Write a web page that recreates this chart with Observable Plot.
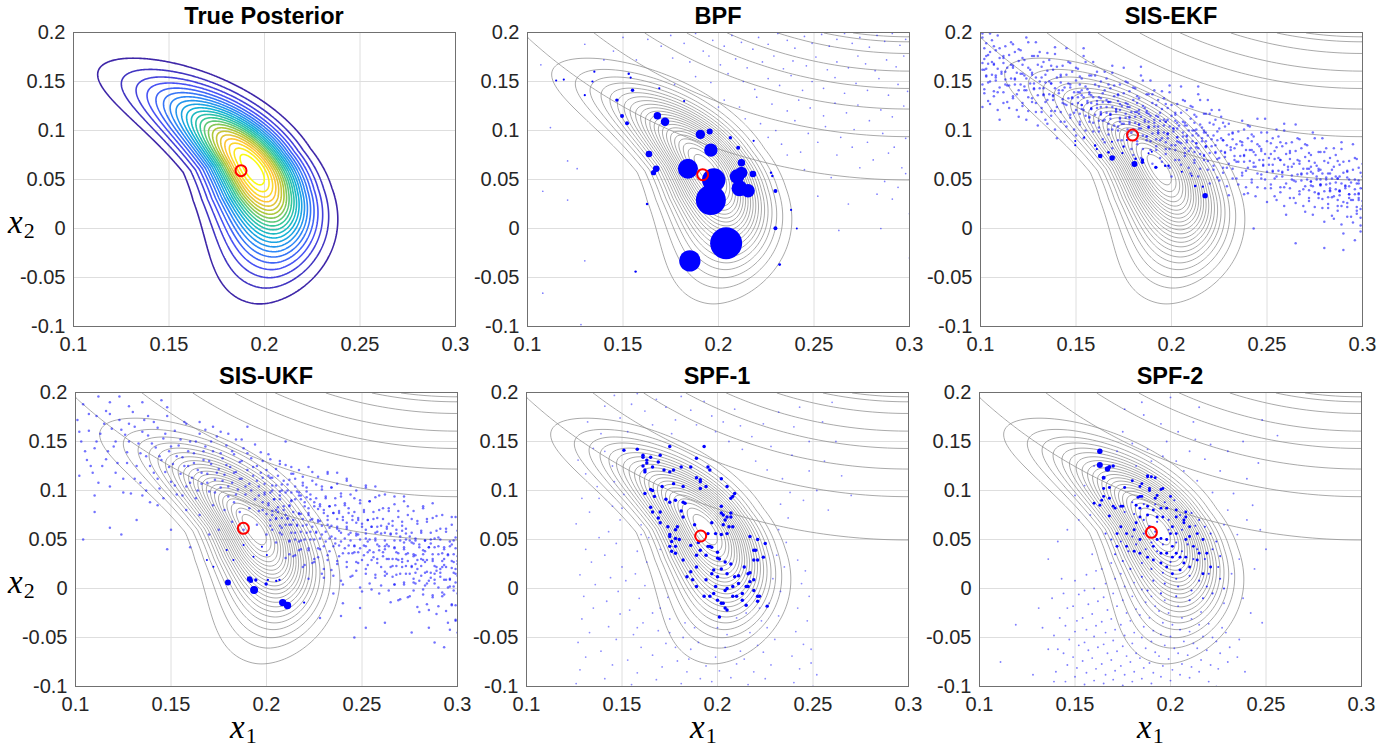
<!DOCTYPE html>
<html>
<head>
<meta charset="utf-8">
<script src="https://cdn.jsdelivr.net/npm/d3@7"></script>
<script src="https://cdn.jsdelivr.net/npm/@observablehq/plot@0.6"></script>
<style>
body{margin:0;background:#fff;}
#root{position:relative;width:1393px;height:747px;overflow:hidden;background:#fff;}
#root > div.panel{position:absolute;}
#labels{position:absolute;left:0;top:0;pointer-events:none;}
</style>
</head>
<body>
<div id="root"></div>
<script>
// ---------------- data ----------------
const titles = ["True Posterior", "BPF", "SIS-EKF", "SIS-UKF", "SPF-1", "SPF-2"];
const xTicks = [0.1, 0.15, 0.2, 0.25, 0.3];
const yTicks = [-0.1, -0.05, 0, 0.05, 0.1, 0.15, 0.2];
// posterior-mean estimates (red circles), one per panel
const estimates = [[0.1877, 0.059], [0.1917, 0.0549], [0.1796, 0.0953], [0.1879, 0.0614], [0.1912, 0.0536], [0.19, 0.0573]];

// true posterior: ring-shaped density (range-like likelihood) – parameters
const ringRadius = 0.203, ringPeakDeg = 17.3, ringSpreadLow = 15.5, ringSpreadHigh = 15.2;
const posteriorLevels = [0.0435, 0.087, 0.1304, 0.1739, 0.2174, 0.2609, 0.3043, 0.3478, 0.3913, 0.4348, 0.4783, 0.5217, 0.5652, 0.6087, 0.6522, 0.6957, 0.7391, 0.7826, 0.8261, 0.8696, 0.913, 0.9565];
// prior contours (grey arcs, upper right): centre, aspect, and arc heights at x1 = 0.3
const priorCenter = [0.3, 0.508], priorAspect = 0.597;
const priorLevels = [0.0495, 0.0937, 0.1219, 0.1429, 0.1606, 0.1786, 0.1905, 0.1956];

const parula = ["#3e26a8", "#4852f4", "#2d87f7", "#12b1d6", "#37c897", "#abc739", "#fec338", "#f9fb15"];

// weighted particles [x1, x2, weight]
const bpfParticles = [[0.204,-0.015,0.256],[0.185,-0.033,0.114],[0.196,0.029,0.225],[0.1975,0.0495,0.137],[0.184,0.061,0.100],[0.196,0.080,0.045],[0.1905,0.096,0.022],[0.1954,0.099,0.009],[0.168,0.115,0.014],[0.172,0.109,0.018],[0.1636,0.076,0.011],[0.1674,0.061,0.011],[0.166,0.057,0.007],[0.2097,0.053,0.053],[0.212,0.057,0.036],[0.211,0.041,0.064],[0.2155,0.0386,0.045],[0.212,0.067,0.014],[0.218,0.0556,0.011],[0.2103,0.0824,0.004],[0.2062,0.0926,0.003],[0.2298,0.0383,0.004],[0.2298,0.0003,0.004],[0.232,-0.0368,0.002],[0.1495,0.1147,0.004],[0.1521,0.1073,0.004],[0.1468,0.131,0.003],[0.155,0.141,0.003],[0.1626,0.025,0.0015],[0.1566,-0.044,0.0015],[0.2275,0.057,0.0015],[0.2282,0.0536,0.0015],[0.238,0.019,0.0012],[0.2184,0.0895,0.0012],[0.241,0.0,0.001],[0.115,0.151,0.0012],[0.119,0.152,0.0012],[0.130,0.136,0.0012],[0.134,0.150,0.0012],[0.135,0.160,0.0012],[0.153,0.158,0.0015],[0.154,0.154,0.0012],[0.169,0.143,0.0012],[0.182,0.130,0.0012]];
const ekfParticles = [[0.1627,0.074,0.0053],[0.1689,0.0719,0.0073],[0.1806,0.0658,0.009],[0.2176,0.0335,0.0073],[0.1918,0.0624,0.0029],[0.1848,0.0699,0.0029],[0.1848,0.0675,0.0029],[0.1812,0.0712,0.0017],[0.167,0.0777,0.0017],[0.1743,0.077,0.0013],[0.16,0.0845,0.0013],[0.1609,0.0811,0.0013],[0.1496,0.085,0.001],[0.1496,0.0892,0.001],[0.1543,0.093,0.001],[0.1749,0.0835,0.001],[0.1688,0.0886,0.001],[0.1766,0.0903,0.001],[0.188,0.0767,0.001],[0.1967,0.0641,0.0015],[0.1984,0.0641,0.0015],[0.2124,0.0434,0.0017],[0.2164,0.0427,0.0013],[0.2054,0.058,0.001],[0.2106,0.0539,0.001],[0.1897,0.0784,0.001]];
const ukfParticles = [[0.1935,-0.0015,0.016],[0.1798,0.006,0.009],[0.1911,0.0097,0.0073],[0.1918,0.008,0.0055],[0.1944,0.0087,0.0029],[0.1998,0.0046,0.0029],[0.2007,0.0087,0.0013],[0.2085,-0.0144,0.0137],[0.211,-0.0174,0.0137],[0.2197,-0.0144,0.0013],[0.2051,0.0077,0.0013],[0.2068,0.0087,0.0013],[0.1722,0.0223,0.001],[0.1827,0.029,0.001],[0.1932,0.0325,0.001],[0.2002,0.0342,0.001],[0.1688,0.029,0.001],[0.1792,0.0393,0.001],[0.188,0.0444,0.001],[0.1976,0.0427,0.001]];
const spf2Particles = [[0.163,0.140,0.0073],[0.163,0.126,0.009],[0.167,0.122,0.0073],[0.168,0.124,0.004],[0.170,0.125,0.0029],[0.165,0.113,0.004]];
const spf1Weight = 0.003, spf2Weight = 0.0022, spf2SmallWeight = 0.0011;

// particle clouds, coordinates in units of 0.001
const bpfCloud = [[163,193],[170,186],[175,197],[182,189],[188,199],[192,181],[197,192],[203,186],[207,197],[212,190],[218,183],[221,195],[226,188],[231,199],[236,192],[240,184],[245,196],[249,189],[254,198],[258,186],[262,193],[266,199],[270,189],[274,195],[279,185],[283,197],[287,191],[291,199],[295,187],[298,193],[176,174],[185,170],[195,176],[201,167],[209,173],[215,164],[223,170],[229,176],[234,163],[239,171],[246,166],[251,175],[257,162],[262,170],[268,164],[273,176],[277,168],[282,161],[288,172],[293,165],[297,176],[188,155],[196,149],[205,158],[213,150],[219,142],[226,153],[232,146],[238,156],[244,141],[249,150],[255,143],[261,154],[266,138],[272,148],[278,141],[284,153],[289,136],[294,147],[299,140],[203,131],[211,124],[220,134],[228,127],[236,120],[242,131],[248,123],[255,115],[261,128],[267,118],[273,126],[279,110],[285,121],[291,114],[297,125],[222,107],[230,100],[240,110],[247,97],[256,104],[264,93],[271,101],[278,88],[286,97],[292,83],[298,92],[233,86],[243,78],[252,88],[262,75],[270,83],[281,70],[289,77],[296,62],[245,60],[259,52],[274,62],[287,48],[294,42],[298,56],[252,33],[268,25],[283,35],[291,30],[107,167],[108,38],[121,29],[108,-66],[130,-33],[128,-98],[121,69],[112,103],[140,172],[150,195],[130,188],[126,61],[285,0],[300,-30],[263,-2],[300,15],[145,181],[157,172],[177,147],[200,124],[214,112],[226,93],[236,75]];

const ekfCloud = [[101,124],[102,138],[101,147],[103,155],[102,162],[101,169],[103,176],[102,184],[101,195],
[105,127],[107,140],[104,149],[108,156],[103,163],[106,170],[104,177],[107,186],[105,199],
[110,111],[112,128],[109,139],[113,147],[108,154],[111,160],[107,167],[112,174],[110,184],[109,197],
[115,123],[117,135],[114,146],[118,153],[113,160],[116,167],[112,176],[117,188],
[120,114],[122,128],[119,137],[123,145],[118,152],[121,158],[117,166],[122,174],[120,183],
[125,120],[127,133],[124,141],[128,148],[123,156],[126,162],[122,167],[127,176],[125,190],
[130,105],[132,119],[129,128],[133,136],[128,143],[131,150],[127,157],[132,165],[130,176],[129,190],
[135,107],[137,120],[134,129],[138,136],[133,143],[136,150],[134,157],[137,166],[135,179],
[140,92],[142,109],[139,120],[143,128],[138,135],[141,141],[137,148],[142,155],[140,165],[139,178],
[145,104],[147,116],[144,127],[148,134],[143,141],[146,148],[142,157],[147,169],[145,184],
[150,95],[152,109],[149,118],[153,126],[148,133],[151,139],[147,147],[152,155],[150,164],
[155,100],[157,113],[154,121],[158,128],[153,136],[156,142],[152,147],[157,156],[155,170],[154,184],
[160,85],[162,99],[159,108],[163,116],[158,123],[161,130],[157,137],[162,145],[160,156],[159,170],
[165,88],[167,101],[164,110],[168,117],[163,124],[166,131],[164,138],[167,147],[165,160],
[170,73],[172,90],[169,101],[173,109],[168,116],[171,122],[167,129],[172,136],[170,146],[169,159],
[175,84],[177,96],[174,107],[178,114],[173,121],[176,128],[172,137],[177,149],[175,164],
[180,75],[182,89],[179,98],[183,106],[178,113],[181,119],[177,127],[182,135],[180,144],
[185,81],[187,94],[184,102],[188,109],[183,117],[186,123],[182,128],[187,137],[185,151],[184,165],
[190,66],[192,80],[189,89],[193,97],[188,104],[191,111],[187,118],[192,126],[190,137],[189,151],
[195,68],[197,81],[194,90],[198,97],[193,104],[196,111],[194,118],[197,127],[195,140],
[200,53],[202,70],[199,81],[203,89],[198,96],[201,102],[197,109],[202,116],[200,126],[199,139],
[205,65],[207,77],[204,88],[208,95],[203,102],[206,109],[202,118],[207,130],[205,145],
[210,56],[212,70],[209,79],[213,87],[208,94],[211,100],[207,108],[212,116],[210,125],
[215,61],[217,74],[214,82],[218,89],[213,97],[216,103],[212,108],[217,117],[215,131],[214,145],
[220,46],[222,60],[219,69],[223,77],[218,84],[221,91],[217,98],[222,106],[220,117],[219,131],
[225,49],[227,62],[224,71],[228,78],[223,85],[226,92],[224,99],[227,108],[225,121],
[230,34],[232,51],[229,62],[233,70],[228,77],[231,83],[227,90],[232,97],[230,107],
[235,45],[237,57],[234,68],[238,75],[233,82],[236,89],[232,98],[237,110],
[240,36],[242,50],[239,59],[243,67],[238,74],[241,80],[237,88],[242,96],[240,105],
[245,42],[247,55],[244,63],[248,70],[243,78],[246,84],[242,89],[247,98],[245,112],
[250,27],[252,41],[249,50],[253,58],[248,65],[251,72],[247,79],[252,87],[250,98],[249,112],
[255,29],[257,42],[254,51],[258,58],[253,65],[256,72],[254,79],[257,88],[255,101],
[260,14],[262,31],[259,42],[263,50],[258,57],[261,63],[257,70],[262,77],[260,87],[259,100],
[265,26],[267,38],[264,49],[268,56],[263,63],[266,70],[262,79],[267,91],[265,106],
[270,17],[272,31],[269,40],[273,48],[268,55],[271,61],[267,69],[272,77],[270,86],
[275,22],[277,35],[274,43],[278,50],[273,58],[276,64],[272,69],[277,78],[275,92],
[280,7],[282,21],[279,30],[283,38],[278,45],[281,52],[277,59],[282,67],[280,78],[279,92],
[285,10],[287,23],[284,32],[288,39],[283,46],[286,53],[284,60],[287,69],[285,82],
[290,-5],[292,12],[289,23],[293,31],[288,38],[291,44],[287,51],[292,58],[290,68],[289,81],
[295,6],[297,18],[294,29],[298,36],[293,43],[296,50],[292,59],[297,71],[295,86],
[299,-3],[299,11],[299,20],[300,28],[298,35],[300,41],[298,49],[299,57],[300,66],
[152,117],[153,126],[151,134],[153,141],[157,114],[158,122],[156,130],[158,136],[162,110],[163,119],[161,127],[163,133],
[167,107],[168,116],[166,124],[168,129],[172,104],[173,112],[171,121],[173,127],[177,101],[178,109],[176,117],[178,124],
[182,98],[183,106],[181,114],[183,121],[187,94],[188,103],[186,111],[188,117],[192,91],[193,100],[191,108],[193,114],
[197,88],[198,97],[196,105],[198,111],[202,85],[203,93],[201,102],[203,108],[207,82],[208,90],[206,98],[208,105],
[212,78],[213,87],[211,95],[213,101],[217,75],[218,84],[216,92],[218,98],
[272,39],[273,48],[271,56],[273,63],[277,36],[278,45],[276,53],[278,60],[282,32],[283,41],[281,50],[283,56],
[287,29],[288,38],[286,47],[288,53],[292,26],[293,35],[291,43],[293,50],[297,22],[298,31],[296,40],[298,46],
[265,-15],[280,-20],[243,0],[238,35],[290,-22],[296,-12],
[104,130],[102,142],[105,150],[103,156],[101,162],[104,168],[102,173],[105,180],[103,189],[101,199],
[109,121],[107,135],[110,144],[108,151],[106,157],[109,163],[107,168],[110,174],[108,182],[106,192],
[114,129],[112,139],[115,146],[113,152],[111,158],[114,164],[112,169],[115,177],[113,186],
[119,121],[117,133],[120,141],[118,147],[116,153],[119,159],[117,164],[120,171],[118,180],[116,190],
[124,111],[122,125],[125,134],[123,141],[121,147],[124,153],[122,158],[125,164],[123,172],[121,182],[124,195],
[129,119],[127,129],[130,136],[128,142],[126,148],[129,154],[127,159],[130,167],[128,176],
[134,111],[132,123],[135,131],[133,137],[131,143],[134,149],[132,154],[135,161],[133,170],[131,180],
[139,101],[137,115],[140,124],[138,131],[136,137],[139,143],[137,148],[140,154],[138,162],[136,172],[139,185],
[144,109],[142,119],[145,126],[143,132],[141,138],[144,144],[142,149],[145,157],[143,166],
[149,101],[147,113],[150,121],[148,127],[146,133],[149,139],[147,144],[150,151],[148,160],[146,170],
[154,92],[152,106],[155,115],[153,122],[151,128],[154,134],[152,139],[155,145],[153,153],[151,163],[154,176],
[159,99],[157,109],[160,116],[158,122],[156,128],[159,134],[157,139],[160,147],[158,156],
[164,91],[162,103],[165,111],[163,117],[161,123],[164,129],[162,134],[165,141],[163,150],[161,160],
[169,82],[167,96],[170,105],[168,112],[166,118],[169,124],[167,129],[170,135],[168,143],[166,153],[169,166],
[174,90],[172,100],[175,107],[173,113],[171,119],[174,125],[172,130],[175,138],[173,147],
[179,81],[177,93],[180,101],[178,107],[176,113],[179,119],[177,124],[180,131],[178,140],[176,150],
[184,72],[182,86],[185,95],[183,102],[181,108],[184,114],[182,119],[185,125],[183,133],[181,143],[184,156],
[189,80],[187,90],[190,97],[188,103],[186,109],[189,115],[187,120],[190,128],[188,137],
[194,72],[192,84],[195,92],[193,98],[191,104],[194,110],[192,115],[195,122],[193,131],[191,141],
[199,62],[197,76],[200,85],[198,92],[196,98],[199,104],[197,109],[200,115],[198,123],[196,133],[199,146],
[204,70],[202,80],[205,87],[203,93],[201,99],[204,105],[202,110],[205,118],[203,127],
[209,62],[207,74],[210,82],[208,88],[206,94],[209,100],[207,105],[210,112],[208,121],[206,131],
[214,53],[212,67],[215,76],[213,83],[211,89],[214,95],[212,100],[215,106],[213,114],[211,124],[214,137],
[219,60],[217,70],[220,77],[218,83],[216,89],[219,95],[217,100],[220,108],[218,117],
[224,52],[222,64],[225,72],[223,78],[221,84],[224,90],[222,95],[225,102],[223,111],[221,121],
[229,43],[227,57],[230,66],[228,73],[226,79],[229,85],[227,90],[230,96],[228,104],[226,114],
[234,51],[232,61],[235,68],[233,74],[231,80],[234,86],[232,91],[235,99],
[239,42],[237,54],[240,62],[238,68],[236,74],[239,80],[237,85],[240,92],[238,101],
[244,33],[242,47],[245,56],[243,63],[241,69],[244,75],[242,80],[245,86],[243,94],[241,104],
[249,41],[247,51],[250,58],[248,64],[246,70],[249,76],[247,81],[250,89],
[254,33],[252,45],[255,53],[253,59],[251,65],[254,71],[252,76],[255,83],[253,92],
[259,23],[257,37],[260,46],[258,53],[256,59],[259,65],[257,70],[260,76],[258,84],[256,94],[259,107],
[264,31],[262,41],[265,48],[263,54],[261,60],[264,66],[262,71],[265,79],[263,88],
[269,23],[267,35],[270,43],[268,49],[266,55],[269,61],[267,66],[270,73],[268,82],[266,92],
[274,14],[272,28],[275,37],[273,44],[271,50],[274,56],[272,61],[275,67],[273,75],[271,85],[274,98],
[279,21],[277,31],[280,38],[278,44],[276,50],[279,56],[277,61],[280,69],[278,78],
[284,13],[282,25],[285,33],[283,39],[281,45],[284,51],[282,56],[285,63],[283,72],[281,82],
[289,4],[287,18],[290,27],[288,34],[286,40],[289,46],[287,51],[290,57],[288,65],[286,75],[289,88],
[294,12],[292,22],[295,29],[293,35],[291,41],[294,47],[292,52],[295,60],[293,69],
[299,3],[297,15],[300,23],[298,29],[296,35],[299,41],[297,46],[300,53],[298,62],[296,72]];

const ukfCloud = [[200,55],[202,70],[198,80],[201,87],[199,96],[203,105],[197,118],[202,132],
[205,47],[207,64],[203,75],[206,83],[204,91],[208,100],[202,113],[207,127],
[210,31],[212,49],[208,62],[211,71],[209,80],[213,89],[207,99],[212,111],[210,126],
[215,34],[217,48],[213,57],[216,64],[214,70],[218,76],[212,85],[217,95],[215,104],[213,117],
[220,24],[222,39],[218,49],[221,57],[219,64],[223,70],[217,76],[222,82],[220,88],[218,95],[221,103],[219,114],
[225,27],[227,41],[223,50],[226,57],[224,63],[228,69],[222,75],[227,81],[225,88],[223,96],[226,106],[224,119],
[230,11],[232,29],[228,40],[231,48],[229,55],[233,62],[227,68],[232,74],[230,80],[228,86],[231,94],[229,104],[232,119],
[235,13],[237,28],[233,38],[236,46],[234,53],[238,59],[232,65],[237,71],[235,77],[233,84],[236,92],[234,103],[237,118],
[240,4],[242,22],[238,33],[241,41],[239,48],[243,55],[237,61],[242,67],[240,73],[238,79],[241,87],[239,97],[242,112],
[245,13],[247,27],[243,36],[246,43],[244,49],[248,55],[242,61],[247,67],[245,74],[243,82],[246,92],[244,105],
[250,-3],[252,15],[248,26],[251,34],[249,41],[253,48],[247,54],[252,60],[250,66],[248,72],[251,80],[249,90],[252,105],
[255,-1],[257,14],[253,24],[256,32],[254,39],[258,45],[252,51],[257,57],[255,63],[253,70],[256,78],[254,89],[257,104],
[260,3],[262,17],[258,26],[261,33],[259,39],[263,45],[257,51],[262,57],[260,64],[258,72],[261,82],[259,95],
[265,-14],[267,4],[263,15],[266,23],[264,30],[268,37],[262,43],[267,49],[265,55],[263,61],[266,69],[264,79],[267,94],
[270,-11],[272,4],[268,14],[271,22],[269,29],[273,35],[267,41],[272,47],[270,53],[268,60],[271,68],[269,79],[272,94],
[275,-8],[277,6],[273,15],[276,22],[274,28],[278,34],[272,40],[277,46],[275,53],[273,61],[276,71],[274,84],
[280,-24],[282,-6],[278,5],[281,13],[279,20],[283,27],[277,33],[282,39],[280,45],[278,51],[281,59],[279,69],[282,84],
[285,-22],[287,-7],[283,3],[286,11],[284,17],[288,23],[282,29],[287,35],[285,42],[283,49],[286,57],[284,71],[287,87],
[290,-18],[292,-4],[288,5],[291,12],[289,18],[293,24],[287,30],[292,36],[290,43],[288,51],[291,61],[289,74],
[295,-35],[297,-17],[293,-6],[296,2],[294,9],[298,16],[292,22],[297,28],[295,34],[293,40],[296,48],[294,58],[297,73],
[299,-32],[299,-17],[298,-2],[299,6],[300,13],[299,20],[298,27],[300,33],[299,41],[298,49],[300,59],[299,73],
[262,40],[268,30],[273,50],[278,25],[283,38],[288,15],[293,30],[297,45],[264,66],[271,59],[276,47],[281,30],[286,46],[291,20],[296,10],[258,58],[252,43],[246,37],[284,5],[277,10],[271,27],[266,12],[290,52],[300,25],
[276,-45],[288,-55],[293,-60],[296,-42],[300,-45],[262,-35],[249,-20],[239,-28],[285,-40],
[101,172],[103,150],[104,188],[106,131],[107,161],[109,118],[110,143],[111,176],[113,158],[114,125],[116,181],[117,140],[118,104],[119,163],[121,150],[122,128],[123,172],[125,112],[126,157],[127,139],[128,186],[129,97],[131,165],[132,125],[133,148],[134,108],[136,172],[137,135],[138,156],[139,88],[141,118],[142,144],[143,164],[144,102],[145,131],[146,153],[147,119],[148,176],[149,140],[150,109],[151,127],[152,161],[153,96],[154,146],[155,117],[156,134],[157,170],[158,104],[159,125],[160,150],[161,113],[162,138],[163,92],[164,121],[165,158],[166,107],[167,131],[168,145],[169,117],[170,99],[171,127],[172,140],[173,111],[174,155],[175,122],[176,103],[177,133],[178,116],[179,146],[180,94],[181,124],[182,108],[183,137],[184,119],[185,101],[186,129],[187,112],[188,143],[189,96],[190,121],[191,107],[192,133],[193,115],[194,91],[195,125],[196,104],[197,139],[198,113],[199,98],[200,121],
[165,170],[172,165],[180,158],[187,152],[194,147],[201,137],[207,130],[213,124],[190,165],[210,150],[135,190],[145,192],[123,196],[112,196],
[104,50],[110,78],[118,62],[124,55],[132,70],[143,85],[150,60],[135,95],[158,80],[165,75],[172,85],[178,80],[183,88],[186,78],[191,82],[196,79],[200,76],[205,71],[175,60],[182,68],[170,55],[188,60],[195,65],[110,95],[102,115],[160,42],[148,40],
[203,60],[208,55],[212,65],[205,80],[198,88],[210,75],[215,50],[218,40],[212,35],[225,30],[230,20],[222,10],[235,-5],[240,-15],[228,-30],[246,-50],[252,-40],
[202,64],[205,72],[203,79],[201,85],[204,91],[202,98],[205,105],[203,113],
[207,57],[210,65],[208,72],[206,78],[209,84],[207,91],[210,98],[208,106],[206,115],
[214,33],[212,48],[215,57],[213,65],[211,72],[214,78],[212,84],[215,91],[213,98],[211,106],[214,117],
[219,22],[217,39],[220,50],[218,58],[216,65],[219,71],[217,77],[220,84],[218,91],[216,99],[219,108],[217,121],
[224,26],[222,41],[225,50],[223,58],[221,65],[224,71],[222,77],[225,84],[223,91],[221,99],[224,110],[222,124],
[229,15],[227,32],[230,43],[228,51],[226,58],[229,64],[227,70],[230,77],[228,84],[226,92],[229,101],[227,114],
[234,19],[232,34],[235,43],[233,51],[231,58],[234,64],[232,70],[235,77],[233,84],[231,92],[234,103],[232,117],
[239,8],[237,25],[240,36],[238,44],[236,51],[239,57],[237,63],[240,70],[238,77],[236,85],[239,94],[237,107],
[244,12],[242,27],[245,36],[243,44],[241,51],[244,57],[242,63],[245,70],[243,77],[241,85],[244,96],[242,110],
[249,1],[247,18],[250,29],[248,37],[246,44],[249,50],[247,56],[250,63],[248,70],[246,78],[249,87],[247,100],
[254,5],[252,20],[255,29],[253,37],[251,44],[254,50],[252,56],[255,63],[253,70],[251,78],[254,89],[252,103],
[259,-5],[257,11],[260,22],[258,30],[256,37],[259,43],[257,49],[260,56],[258,63],[256,71],[259,80],[257,93],
[264,-2],[262,13],[265,22],[263,30],[261,37],[264,43],[262,49],[265,56],[263,63],[261,71],[264,82],[262,96],
[269,-12],[267,4],[270,15],[268,23],[266,30],[269,36],[267,42],[270,49],[268,56],[266,64],[269,73],[267,86],
[274,-9],[272,6],[275,15],[273,23],[271,30],[274,36],[272,42],[275,49],[273,56],[271,64],[274,75],[272,89],
[279,-19],[277,-2],[280,8],[278,16],[276,23],[279,29],[277,35],[280,42],[278,49],[276,57],[279,66],[277,79],
[284,-16],[282,-1],[285,8],[283,16],[281,23],[284,29],[282,35],[285,42],[283,49],[281,57],[284,68],[282,82],
[289,-26],[287,-9],[290,1],[288,9],[286,16],[289,22],[287,28],[290,35],[288,42],[286,50],[289,59],[287,72],
[294,-23],[292,-8],[295,1],[293,9],[291,16],[294,22],[292,28],[295,35],[293,42],[291,50],[294,61],[292,75],
[299,-33],[297,-16],[300,-5],[298,2],[296,9],[299,15],[297,21],[300,28],[298,35],[296,43],[299,52],[297,65],
[102,160],[105,140],[107,178],[108,125],[111,150],[112,108],[115,168],[116,132],[118,190],[120,145],[121,118],[124,162],[125,98],[127,128],[128,150],[130,180],[131,112],[134,138],[135,160],[137,100],[139,125],[140,148],[141,170],[143,112],[144,135],[146,92],[147,158],[149,124],[150,145],[152,105],[153,135],[155,152],[156,95],[157,125],[159,140],[160,108],[162,128],[163,150],[164,100],[166,118],[167,140],[169,108],[170,130],[171,150],[173,98],[174,118],[176,138],[177,110],[179,126],[180,104],[182,140],[183,118],[184,96],[186,112],[187,130],[189,104],[190,138],[192,100],[193,124],[195,110],[196,95],[198,130],[199,107],[201,115],[203,100],[205,122],[207,95],[209,110],[211,100],[213,90],[215,112],[217,98],[219,105],[221,93],[184,152],[176,160],[168,162],[158,168],[148,185],[138,176],[128,168],[118,178]];

const spf1Cloud = [[126,-97],[128,-83],[131,-70],[127,-55],[133,-45],[129,-31],[135,-20],[130,-8],[136,4],[128,14],[134,27],[131,40],[138,52],[126,66],[133,78],[129,92],[137,104],[131,117],[127,131],[135,143],[139,158],[132,170],[141,186],[146,197],
[141,-92],[145,-78],[139,-64],[147,-52],[143,-39],[149,-26],[142,-13],[148,-3],[144,11],[150,22],[141,34],[147,46],[143,58],[149,70],[145,84],[151,96],[146,109],[153,160],[149,174],[155,188],[158,199],
[155,-98],[158,-86],[153,-73],[160,-60],[156,-47],[161,-35],[154,-22],[159,-10],[162,3],[157,15],[163,27],[158,38],[164,52],[160,65],[166,167],[162,181],[168,193],
[168,-93],[171,-80],[166,-68],[173,-56],[169,-43],[175,-31],[170,-20],[174,-9],[178,172],[173,185],[181,196],[176,158],
[181,-97],[184,-85],[179,-74],[186,-62],[182,-50],[188,-40],[191,-92],[194,-79],[189,167],[186,182],[193,191],[197,176],[199,160],
[197,-95],[201,-84],[199,-70],[204,-60],[207,-91],[210,-77],[205,-47],[212,-64],[203,170],[209,183],[212,166],[206,150],[213,142],
[216,-98],[219,-85],[214,-72],[221,-58],[217,-45],[223,-33],[225,-92],[228,-78],[224,-65],[230,-52],[226,-40],[232,-28],[227,-15],[233,-3],[229,10],[235,22],[231,34],[236,47],[232,60],[237,72],[233,86],[238,98],[234,112],[220,130],[226,121],[218,155],[224,168],[228,145],[239,136],[232,180],
[240,-96],[243,-82],[239,-69],[245,-57],[241,-44],[247,-33],[242,-20],[248,-8],[244,5],[250,-100],[252,-88],[249,-62],[246,18],[242,29],[249,-76],
[160,55],[150,82],[145,125],[141,140],[138,92],[170,40],[152,8],[175,-45],[185,-72],[200,-40],[215,-25],[222,-20],[210,-30],[190,-55],[183,-35],[178,-60],[166,-25],[158,-40],[245,90],[248,120],[252,100],[265,115],[258,80],[256,130],[270,95],[262,150],[248,150],[255,170],[243,185],[260,190],[240,165]];

const spf1Points = [[151,141],[158,142],[161,134],[163,131],[161,125],[162,121],[170,136],[169,129],[172,121],[177,121],[181,124],[186,124],[189,113],[191,109],[191,102],[182,104],[177,107],[171,104],[166,100],[165,101],[162,97],[167,94],[173,91],[175,88],[178,90],[182,88],[183,87],[181,79],[182,73],[179,63],[188,65],[175,55],[180,50],[178,43],[186,44],[190,47],[191,39],[195,56],[197,67],[202,84],[202,77],[203,75],[205,73],[204,70],[207,77],[207,73],[208,63],[203,65],[206,63],[205,56],[202,55],[199,56],[195,43],[196,43],[197,42],[194,34],[200,37],[200,31],[201,30],[204,27],[207,25],[202,20],[198,19],[197,15],[200,12],[205,15],[209,12],[211,13],[214,22],[216,15],[217,7],[215,2],[211,5],[208,2],[205,0],[204,-2],[199,2],[194,9],[189,2],[193,-8],[198,-5],[200,-12],[202,-15],[204,-20],[201,-29],[208,-8],[213,-5],[219,-2],[222,-8],[221,-13],[215,-17],[219,29],[220,39],[217,53],[208,94],[207,92],[191,111],[194,104],
[161,136],[163,128],[165,134],[166,124],[162,119],[175,119],[166,78],[170,78],[165,83],[169,72],[170,67],[174,63],[178,51],[178,60],[175,53],[176,48],[175,43],[176,38],[178,36],[182,29],[189,34],[189,22],[186,17],[184,12],[187,9],[196,-8],[203,-15],[205,-22],[210,-8],[216,2],[217,16],[221,29],[219,39],[221,50],[219,9],[224,32],[225,46],[226,-18],[221,-8],[213,-12],[193,145],[175,145],[189,133],[195,124],[196,121],[202,112],[205,104],[209,97]];

const spf2Points = [[165,102],[168,103],[165,94],[168,92],[163,85],[160,87],[176,103],[168,74],[180,110],[184,104],[188,115],[192,113],[185,94],[183,93],[189,100],[195,101],[193,95],[192,92],[188,84],[184,82],[174,84],[170,84],[191,80],[195,82],[198,82],[203,80],[208,78],[208,73],[207,67],[201,63],[200,56],[198,50],[193,50],[195,51],[189,63],[188,75],[184,73],[182,67],[181,60],[177,56],[174,63],[172,56],[184,50],[191,43],[195,36],[198,36],[201,43],[203,36],[205,32],[207,26],[208,32],[212,43],[210,53],[214,56],[215,36],[214,29],[210,22],[205,19],[201,15],[198,22],[195,26],[191,29],[188,32],[184,36],[181,38],[177,43],[172,43],[201,32],[208,50],[217,50],[219,36],[221,22],[217,15],[203,56],[196,73],[193,73],[203,73],[200,94],[207,70],[210,63],
[164,90],[171,82],[175,84],[185,107],[188,114],[190,114],[196,102],[184,94],[189,102],[182,85]];

const spf2Small = [[180,88],[186,86],[192,86],[197,88],[202,90],[176,78],[181,76],[186,70],[193,68],[199,70],[205,75],[211,77],[215,70],[218,63],[221,56],[224,48],[222,40],[226,33],[213,64],[206,60],[199,60],[192,58],[186,56],[180,53],[174,48],[169,50],[166,56],[190,47],[196,45],[203,47],[209,45],[214,40],[218,30],[212,30],[206,38],[200,27],[193,38],[187,40],[182,45],[178,38],[185,26],[190,20],[196,16],[203,10],[210,13],[215,8],[220,15],[225,22],[226,10],[219,2],[211,-2],[204,2],[197,5],[191,8],[185,12],[179,20],[175,28],[171,35],[203,-8],[210,-12],[217,-10],[222,-5],[228,0],[195,-5],[188,-2]];

const spf2Cloud = [[140,-85],[141,-62],[139,-48],[142,-30],
[145,-95],[146,-78],[144,-66],[147,-52],[145,-38],[146,-20],[144,-5],
[150,-90],[151,-81],[149,-70],[152,-58],[150,-44],[151,-33],[149,-18],[152,-6],[150,8],
[155,-98],[156,-86],[154,-74],[157,-63],[155,-55],[156,-42],[154,-30],[157,-16],[155,-2],[156,14],
[160,-94],[161,-82],[159,-71],[162,-60],[160,-49],[161,-38],[159,-26],[162,-13],[160,0],[161,18],[159,35],
[165,-97],[166,-88],[164,-77],[167,-66],[165,-57],[166,-45],[164,-34],[167,-22],[165,-9],[166,5],[164,20],
[170,-93],[171,-84],[169,-73],[172,-64],[170,-53],[171,-42],[169,-31],[172,-18],[170,-5],[171,10],[169,26],
[175,-99],[176,-88],[174,-79],[177,-69],[175,-59],[176,-48],[174,-37],[177,-25],[175,-12],[176,2],[174,15],
[180,-95],[181,-85],[179,-75],[182,-66],[180,-56],[181,-45],[179,-33],[182,-21],[180,-8],[181,6],
[185,-92],[186,-81],[184,-71],[187,-61],[185,-50],[186,-39],[184,-27],[187,-14],[185,-1],
[190,-97],[191,-86],[189,-76],[192,-65],[190,-54],[191,-43],[189,-30],[192,-18],[190,-8],
[195,-90],[196,-79],[194,-69],[197,-58],[195,-47],[196,-35],[194,-23],[197,-12],
[200,-94],[201,-83],[199,-72],[202,-61],[200,-49],[201,-37],[199,-25],
[205,-88],[206,-77],[204,-66],[207,-54],[205,-42],[206,-30],[204,-18],
[210,-91],[211,-80],[209,-68],[212,-56],[210,-44],[211,-31],
[215,-85],[216,-73],[214,-61],[217,-49],[215,-37],[216,-24],
[220,-95],[221,-78],[219,-63],[222,-50],[220,-36],
[225,-82],[226,-66],[224,-54],[227,-40],
[230,-75],[231,-60],[229,-45],[235,-70],[236,-52],
[111,-75],[119,-37],[128,-88],[133,-40],[136,-62],[131,-20],[138,-10],[143,10],[139,-95],[136,30],[141,48],[146,60],[152,70],[158,75],
[176,183],[186,177],[195,168],[204,160],[213,152],[221,147],[230,140],[238,150],[246,128],[240,112],[233,97],[226,120],[218,132],[210,140],[203,130],[214,110],[222,98],[230,80],[240,70],[247,60],[235,55],[228,65],[243,85],[236,30],[244,20],[250,40],[232,15],[228,-15],[238,-10],[242,-25],[248,-35],[239,-85],[224,-100],[160,125],[155,105],[150,95],[172,140],[180,148],[188,142],[196,135],[207,120],[198,150],[190,130],[182,125],[175,160],[185,190],[200,195],[215,185],[248,172],[256,156],[212,170]];

// ---------------- layout (not data) ----------------
const frames = [[73, 32], [527, 32], [980, 32], [75, 392], [526, 392], [979, 392]];
const FW = 382, FH = 294, ML = 72, MR = 20, MT = 8, MB = 36;

// ---------------- density functions for the contour marks ----------------
function posterior(x, y) {
  const r = Math.hypot(x, y), th = Math.atan2(y, x) * 180 / Math.PI;
  const R = ringRadius + 0.00015 * Math.max(0, 10 - th);
  const low = th < 20 ? 20 - th : 0, high = th > 20 ? th - 20 : 0;
  const s = r < R ? 0.0142 + 0.00012 * low + 0.00008 * high : 0.0142 + 0.00004 * low + 0.00008 * high;
  const dt = th - ringPeakDeg, st = dt < 0 ? ringSpreadLow : ringSpreadHigh;
  return Math.exp(-0.5 * ((r - R) / s) ** 2 - 0.5 * (dt / st) ** 2);
}
function priorArc(x, y) {
  return priorCenter[1] - Math.hypot((x - priorCenter[0]) / priorAspect, y - priorCenter[1]);
}

const parulaInterp = d3.piecewise(d3.interpolateRgb, parula);
const fmt = d => String(d);
const th = v => v / 1000;

function buildPanel(i) {
  const marks = [
    Plot.gridX(xTicks, {stroke: "#dedede", strokeOpacity: 1}),
    Plot.gridY(yTicks, {stroke: "#dedede", strokeOpacity: 1})
  ];
  const region = {x1: 0.1, y1: -0.1, x2: 0.3, y2: 0.2, pixelSize: 1, clip: true};
  if (i === 0) {
    marks.push(Plot.contour({...region, value: posterior, thresholds: posteriorLevels, stroke: "value", fill: "none", strokeWidth: 1.6}));
  } else {
    marks.push(Plot.contour({...region, value: posterior, thresholds: posteriorLevels, stroke: "#8e8e8e", fill: "none", strokeWidth: 0.75}));
    marks.push(Plot.contour({...region, value: priorArc, thresholds: priorLevels, stroke: "#8e8e8e", fill: "none", strokeWidth: 0.75}));
  }
  const faint = (data, r, op) => Plot.dot(data, {x: d => th(d[0]), y: d => th(d[1]), r, fill: "#0000ff", fillOpacity: op, stroke: "none", clip: true});
  const weighted = (data) => Plot.dot(data, {x: d => d[0], y: d => d[1], r: d => d[2], fill: "#0000ff", stroke: "none", clip: true});
  if (i === 1) { marks.push(faint(bpfCloud, 0.85, 0.5)); marks.push(weighted(bpfParticles)); }
  if (i === 2) { marks.push(faint(ekfCloud, 1.25, 0.55)); marks.push(weighted(ekfParticles)); }
  if (i === 3) { marks.push(faint(ukfCloud, 1.25, 0.55)); marks.push(weighted(ukfParticles)); }
  if (i === 4) {
    marks.push(faint(spf1Cloud, 0.9, 0.45));
    marks.push(Plot.dot(spf1Points, {x: d => th(d[0]), y: d => th(d[1]), r: () => spf1Weight, fill: "#0000ff", stroke: "none", clip: true}));
  }
  if (i === 5) {
    marks.push(faint(spf2Cloud, 0.95, 0.5));
    marks.push(Plot.dot(spf2Small, {x: d => th(d[0]), y: d => th(d[1]), r: () => spf2SmallWeight, fill: "#0000ff", fillOpacity: 0.75, stroke: "none", clip: true}));
    marks.push(Plot.dot(spf2Points, {x: d => th(d[0]), y: d => th(d[1]), r: () => spf2Weight, fill: "#0000ff", stroke: "none", clip: true}));
    marks.push(weighted(spf2Particles));
  }
  marks.push(Plot.dot([estimates[i]], {x: d => d[0], y: d => d[1], r: 5.5, stroke: "#ff0000", strokeWidth: 2, fill: "none"}));
  marks.push(Plot.frame({stroke: "#707070", strokeWidth: 1}));
  marks.push(Plot.axisX(xTicks, {tickSize: 0, tickPadding: 10, tickFormat: fmt, fontSize: 20}));
  marks.push(Plot.axisY(yTicks, {tickSize: 0, tickPadding: 8, tickFormat: fmt, fontSize: 20}));
  return Plot.plot({
    width: FW + ML + MR, height: FH + MT + MB,
    marginLeft: ML, marginRight: MR, marginTop: MT, marginBottom: MB,
    x: {domain: [0.1, 0.3], label: null},
    y: {domain: [-0.1, 0.2], label: null},
    r: {type: "sqrt", domain: [0, 0.256], range: [0, 16]},
    color: {type: "linear", domain: [posteriorLevels[0], posteriorLevels[posteriorLevels.length - 1]], interpolate: parulaInterp},
    style: {fontFamily: "'Liberation Sans', Arial, sans-serif", fontSize: "20px", color: "#262626", background: "transparent", overflow: "visible"},
    marks
  });
}

const root = document.getElementById("root");
frames.forEach(([fx, fy], i) => {
  const div = document.createElement("div");
  div.className = "panel";
  div.style.left = (fx - ML) + "px";
  div.style.top = (fy - MT) + "px";
  div.appendChild(buildPanel(i));
  root.appendChild(div);
});

// ---------------- text overlay ----------------
const svgNS = "http://www.w3.org/2000/svg";
const ov = document.createElementNS(svgNS, "svg");
ov.setAttribute("id", "labels");
ov.setAttribute("width", 1393); ov.setAttribute("height", 747);
root.appendChild(ov);
function addText(x, y, str, attrs) {
  const t = document.createElementNS(svgNS, "text");
  t.setAttribute("x", x); t.setAttribute("y", y);
  for (const k in attrs) t.setAttribute(k, attrs[k]);
  t.textContent = str;
  ov.appendChild(t);
  return t;
}
frames.forEach(([fx, fy], i) => {
  addText(fx + FW / 2, fy - 8, titles[i], {"text-anchor": "middle", "font-family": "'Liberation Sans', Arial, sans-serif", "font-weight": "bold", "font-size": 23.5, fill: "#000"});
});
function mathLabel(x, y, sub) {
  const t = addText(x, y, "", {"font-family": "'Liberation Serif', 'DejaVu Serif', serif", fill: "#000"});
  const a = document.createElementNS(svgNS, "tspan");
  a.setAttribute("font-style", "italic"); a.setAttribute("font-size", 33); a.textContent = "x";
  const b = document.createElementNS(svgNS, "tspan");
  b.setAttribute("font-size", 22); b.setAttribute("dy", 5); b.setAttribute("dx", 1); b.textContent = sub;
  t.appendChild(a); t.appendChild(b);
}
mathLabel(8, 233, "2");
mathLabel(8, 593, "2");
mathLabel(230, 738, "1");
mathLabel(690, 738, "1");
mathLabel(1137, 738, "1");
</script>
</body>
</html>
